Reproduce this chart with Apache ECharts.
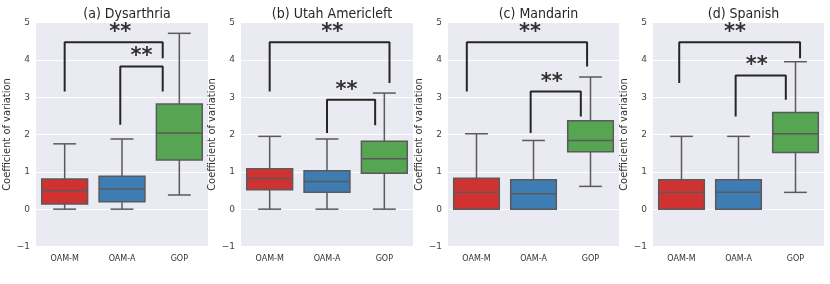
<!DOCTYPE html>
<html><head><meta charset="utf-8">
<script src="https://cdn.jsdelivr.net/npm/echarts@6/dist/echarts.min.js"></script>
<style>html,body{margin:0;padding:0;background:#fff}#c{width:830px;height:284px}</style>
</head><body><div id="c"></div>
<script>
const categories = ['OAM-M', 'OAM-A', 'GOP'];
const panelTitles = ['(a) Dysarthria', '(b) Utah Americleft', '(c) Mandarin', '(d) Spanish'];
const yTickMin = -1, yTickMax = 5, yTickStep = 1;
const boxColors = ['#d03232', '#3e7db3', '#55a553'];

// [whiskerLow, Q1, median, Q3, whiskerHigh] per category
const dysarthria = [[0, 0.14, 0.50, 0.81, 1.75], [0, 0.20, 0.54, 0.88, 1.88], [0.38, 1.32, 2.04, 2.82, 4.71]];
const utah       = [[0, 0.52, 0.82, 1.08, 1.95], [0, 0.45, 0.74, 1.03, 1.88], [0, 0.96, 1.35, 1.82, 3.11]];
const mandarin   = [[0, 0, 0.45, 0.83, 2.02], [0, 0, 0.41, 0.79, 1.84], [0.61, 1.54, 1.84, 2.37, 3.54]];
const spanish    = [[0, 0, 0.45, 0.79, 1.95], [0, 0, 0.45, 0.79, 1.95], [0.45, 1.52, 2.02, 2.59, 3.95]];

// significance brackets: [xLeft, yLeftEnd, xRight, yRightEnd, yTop] (x in category units)
const dysBrackets  = [[0, 3.15, 1.71, 4.04, 4.47], [0.97, 2.26, 1.71, 3.15, 3.82]];
const utahBrackets = [[0, 3.15, 2.09, 3.38, 4.47], [1.0, 2.04, 1.84, 2.25, 2.93]];
const manBrackets  = [[-0.17, 3.15, 1.94, 3.82, 4.47], [0.95, 2.04, 1.83, 2.48, 3.15]];
const spaBrackets  = [[-0.04, 3.38, 2.08, 4.04, 4.47], [0.95, 2.48, 1.83, 2.93, 3.58]];
// star label positions [x, y]
const dysStars  = [[0.97, 4.82], [1.34, 4.16]];
const utahStars = [[1.09, 4.82], [1.34, 3.27]];
const manStars  = [[0.94, 4.82], [1.32, 3.48]];
const spaStars  = [[0.94, 4.82], [1.32, 3.93]];
const starText = '**';

const panels = [
  {title: panelTitles[0], boxes: dysarthria, brackets: dysBrackets, stars: dysStars},
  {title: panelTitles[1], boxes: utah, brackets: utahBrackets, stars: utahStars},
  {title: panelTitles[2], boxes: mandarin, brackets: manBrackets, stars: manStars},
  {title: panelTitles[3], boxes: spanish, brackets: spaBrackets, stars: spaStars}
];

const gridPos = [{left: 36, width: 172}, {left: 241, width: 172}, {left: 448, width: 171}, {left: 653, width: 171}];
const narrow = "'Liberation Sans Narrow', 'DejaVu Sans Condensed', 'DejaVu Sans', sans-serif";
const lineGrey = '#5a5a5a';

const chart = echarts.init(document.getElementById('c'), null, {renderer: 'canvas'});
const option = {
  animation: false,
  backgroundColor: '#ffffff',
  title: [], grid: [], xAxis: [], yAxis: [], series: []
};

panels.forEach((p, i) => {
  const g = gridPos[i];
  option.grid.push({left: g.left, width: g.width, top: 22.5, height: 224, show: true,
    backgroundColor: '#eaeaf2', borderWidth: 0, containLabel: false});
  option.title.push({text: p.title, left: g.left + g.width / 2, top: 2, textAlign: 'center',
    textStyle: {fontFamily: narrow, fontSize: 14, fontWeight: 'normal', color: '#262626'}});
  option.xAxis.push({type: 'category', gridIndex: i, data: categories, boundaryGap: true,
    axisLine: {show: false}, axisTick: {show: false}, splitLine: {show: false},
    axisLabel: {fontFamily: "'DejaVu Sans', sans-serif", fontSize: 8, color: '#333', margin: 8}});
  option.xAxis.push({type: 'value', gridIndex: i, min: -0.5, max: 2.5, show: false});
  option.yAxis.push({type: 'value', gridIndex: i, min: yTickMin, max: yTickMax, interval: yTickStep,
    name: 'Coefficient of variation', nameLocation: 'middle', nameGap: 19,
    nameTextStyle: {fontFamily: narrow, fontSize: 11, color: '#333'},
    axisLine: {show: false}, axisTick: {show: false},
    axisLabel: {fontFamily: "'DejaVu Sans', sans-serif", fontSize: 9, color: '#444', margin: 6,
      formatter: v => (v < 0 ? '\u2212' + Math.abs(v) : String(v))},
    splitLine: {show: true, lineStyle: {color: '#ffffff', width: 1}}});

  const catAxis = i * 2, valAxis = i * 2 + 1;
  option.series.push({
    type: 'custom', xAxisIndex: catAxis, yAxisIndex: i,
    data: p.boxes.map((b, k) => [k].concat(b)),
    encode: {x: 0, y: [1, 2, 3, 4, 5]},
    renderItem: (params, api) => {
      const k = api.value(0);
      const lo = api.value(1), q1 = api.value(2), med = api.value(3), q3 = api.value(4), hi = api.value(5);
      const band = api.size([1, 0])[0];
      const bw = band * 0.8, cw = bw / 2;
      const pLo = api.coord([k, lo]), pQ1 = api.coord([k, q1]), pMed = api.coord([k, med]);
      const pQ3 = api.coord([k, q3]), pHi = api.coord([k, hi]);
      const cx = pMed[0];
      const ls = {stroke: lineGrey, lineWidth: 1.5};
      const children = [
        {type: 'line', shape: {x1: cx, y1: pHi[1], x2: cx, y2: pQ3[1]}, style: ls},
        {type: 'line', shape: {x1: cx, y1: pQ1[1], x2: cx, y2: pLo[1]}, style: ls},
        {type: 'line', shape: {x1: cx - cw / 2, y1: pHi[1], x2: cx + cw / 2, y2: pHi[1]}, style: ls},
        {type: 'line', shape: {x1: cx - cw / 2, y1: pLo[1], x2: cx + cw / 2, y2: pLo[1]}, style: ls},
        {type: 'rect', shape: {x: cx - bw / 2, y: pQ3[1], width: bw, height: Math.max(pQ1[1] - pQ3[1], 0)},
          style: {fill: boxColors[k], stroke: lineGrey, lineWidth: 1.5}},
        {type: 'line', shape: {x1: cx - bw / 2, y1: pMed[1], x2: cx + bw / 2, y2: pMed[1]}, style: ls}
      ];
      return {type: 'group', children: children};
    }
  });
  p.brackets.forEach(br => {
    option.series.push({
      type: 'line', xAxisIndex: valAxis, yAxisIndex: i, symbol: 'none', silent: true,
      lineStyle: {color: '#262626', width: 2},
      data: [[br[0], br[1]], [br[0], br[4]], [br[2], br[4]], [br[2], br[3]]]
    });
  });
  option.series.push({
    type: 'scatter', xAxisIndex: valAxis, yAxisIndex: i, symbolSize: 1, silent: true,
    itemStyle: {color: 'rgba(0,0,0,0)'},
    data: p.stars,
    label: {show: true, position: 'inside', formatter: starText, offset: [0, 3],
      fontFamily: "'DejaVu Sans', sans-serif", fontWeight: 'bold', fontSize: 21, color: '#000'}
  });
});

chart.setOption(option);
</script></body></html>
